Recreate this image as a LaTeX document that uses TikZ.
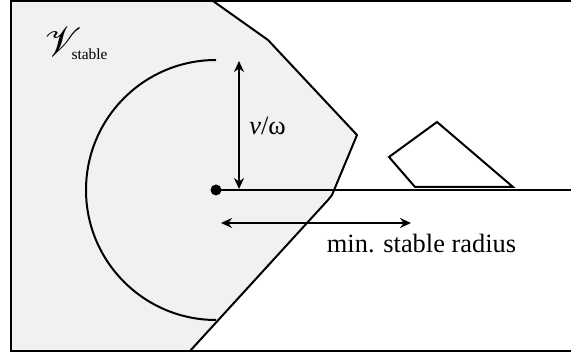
\documentclass[tikz,border=0pt]{standalone}
\usepackage{fontspec}
\setmainfont{Liberation Serif}
\usepackage{mathrsfs}
\usetikzlibrary{arrows.meta}
\definecolor{regioncolor}{HTML}{F1F1F1}

\begin{document}
\begin{tikzpicture}[x=0.5pt, y=-0.5pt,
    edge/.style={line width=1pt, line join=miter},
    arr/.style={{Stealth[length=5.5pt, width=5pt]}-{Stealth[length=5.5pt, width=5pt]},
                line width=1pt},
    lbl/.style={inner sep=0pt, font=\fontsize{13.2}{15}\selectfont}
]
    \useasboundingbox (0,0) rectangle (571,356);
    \clip (0,0) rectangle (571,356);

    % stable region
    \fill[regioncolor] (11,1) -- (213,1) -- (268,40) -- (357,135) -- (332,195)
        -- (328,200) -- (190,351) -- (11,351) -- cycle;
    \draw[edge] (213,1) -- (268,40) -- (357,135) -- (332,195) -- (328,200) -- (190,351);

    % frame (open to the right)
    \draw[edge] (580,1) -- (11,1) -- (11,351) -- (580,351);

    % robot and its turning circle
    \node[circle, fill, inner sep=0pt, minimum size=5.5pt] (robot) at (216,190) {};
    \draw[edge] (216,60) arc[start angle=270, end angle=90, radius=130];

    % heading ray
    \coordinate (rayend) at (580,190);
    \draw[edge] (robot.center) -- (rayend);

    % obstacle
    \draw[edge] (389,157) -- (437,122) -- (513,187) -- (415,187) -- cycle;

    % v/omega
    \coordinate (vtop) at (239,61);
    \coordinate (vbot) at (239,189);
    \draw[arr] (vtop) -- (vbot);
    \node[lbl, anchor=base west] (vw) at (249,135) {\textit{v}/ω};

    % min. stable radius
    \coordinate (rleft) at (221,223);
    \coordinate (rright) at (411,223);
    \draw[arr] (rleft) -- (rright);
    \node[lbl, anchor=base] (radius) at (421.5,253) {min. stable radius};

    % region label
    \node[lbl, anchor=base west] (vstable) at (44,57)
        {\fontsize{22}{24}\selectfont$\mathscr{V}$\kern-5pt\raisebox{-1.5pt}{\fontsize{7.7}{9}\selectfont stable}};
\end{tikzpicture}
\end{document}
